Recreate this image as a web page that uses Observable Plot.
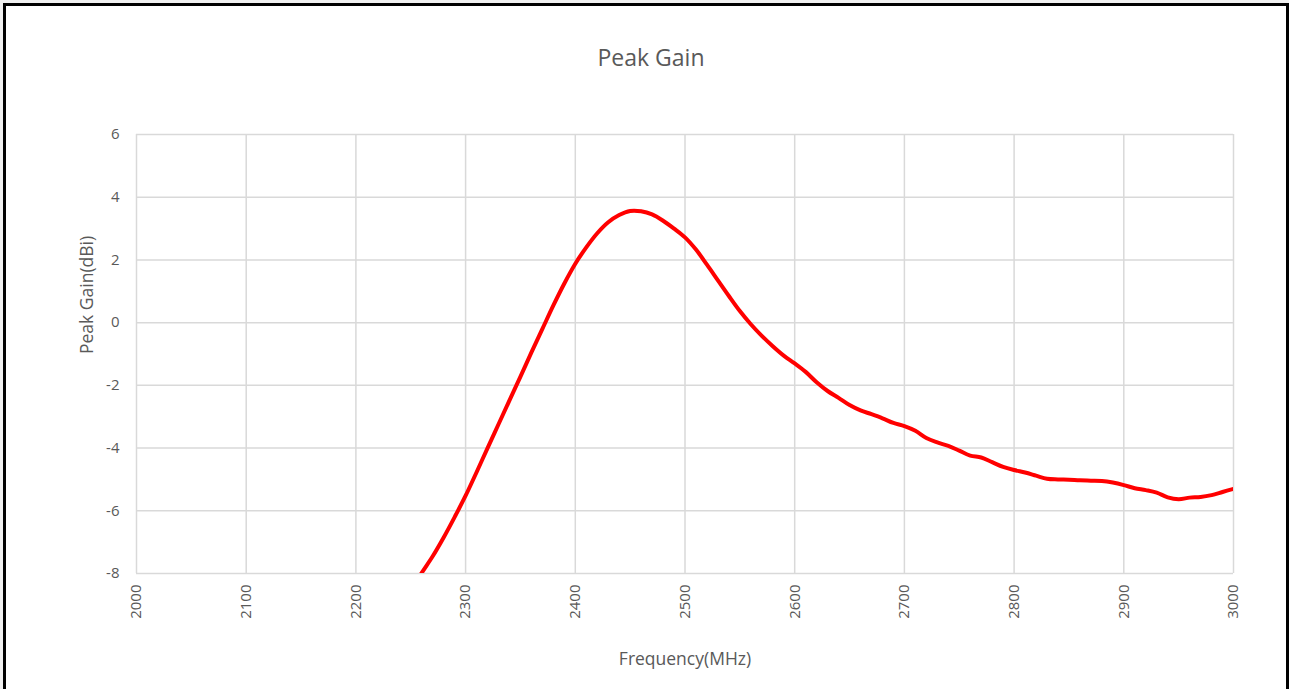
<!DOCTYPE html>
<html>
<head>
<meta charset="utf-8">
<script src="https://cdn.jsdelivr.net/npm/d3@7"></script>
<script src="https://cdn.jsdelivr.net/npm/@observablehq/plot@0.6"></script>
<style>
  html, body { margin: 0; padding: 0; background: #ffffff; }
  #wrap { position: relative; width: 1289px; height: 689px; overflow: hidden; background: #f0f0f0; }
  #frame { position: absolute; left: 3px; top: 3px; width: 1280px; height: 720px; background: #ffffff;
           border-left: 3px solid #000; border-top: 3px solid #000; border-right: 3px solid #000; }
  #title { position: absolute; left: 0; top: 42px; width: 1302px; text-align: center;
           font-family: "Open Sans", sans-serif; font-size: 23px; line-height: 30px; color: #595959; }
  #chart { position: absolute; left: 0; top: 0; }
</style>
</head>
<body>
<div id="wrap">
  <div id="frame"></div>
  <div id="title">Peak Gain</div>
  <div id="chart"></div>
</div>
<script>
// Frequency (MHz)
const freq = [2250,2260,2270,2280,2290,2300,2310,2320,2330,2340,2350,2360,2370,2380,2390,
  2400,2410,2420,2430,2440,2450,2460,2470,2480,2490,2500,2510,2520,2530,2540,2550,2560,2570,2580,2590,
  2600,2610,2620,2630,2640,2650,2660,2670,2680,2690,2700,2710,2720,2730,2740,2750,2760,2770,2780,2790,
  2800,2810,2820,2830,2840,2850,2860,2870,2880,2890,2900,2910,2920,2930,2940,2950,2960,2970,2980,2990,3000];
// Peak gain (dBi)
const gain = [-8.55,-7.98,-7.45,-6.85,-6.2,-5.52,-4.77,-4.0,-3.24,-2.48,-1.72,-0.95,-0.2,0.55,1.25,
  1.88,2.4,2.85,3.2,3.43,3.56,3.55,3.45,3.25,3.0,2.72,2.33,1.85,1.35,0.85,0.37,-0.05,-0.42,-0.75,-1.05,
  -1.3,-1.57,-1.9,-2.18,-2.4,-2.63,-2.8,-2.92,-3.05,-3.2,-3.3,-3.45,-3.68,-3.82,-3.93,-4.08,-4.24,-4.3,-4.45,-4.6,
  -4.7,-4.78,-4.88,-4.98,-5.0,-5.01,-5.03,-5.04,-5.05,-5.1,-5.18,-5.28,-5.34,-5.42,-5.57,-5.63,-5.58,-5.56,-5.5,-5.4,-5.3];
const xTicks = [2000,2100,2200,2300,2400,2500,2600,2700,2800,2900,3000];
const yTicks = [-8,-6,-4,-2,0,2,4,6];
const xLabel = "Frequency(MHz)";
const yLabel = "Peak Gain(dBi)";

const data = freq.map((f, i) => ({f, g: gain[i]}));

const chart = Plot.plot({
  width: 1289,
  height: 689,
  marginLeft: 136,
  marginRight: 56,
  marginTop: 134,
  marginBottom: 116,
  style: {fontFamily: "'Open Sans', sans-serif", fontSize: "15px", color: "#595959", background: "transparent"},
  x: {domain: [2000, 3000]},
  y: {domain: [-8, 6]},
  marks: [
    Plot.gridX(xTicks, {stroke: "#d9d9d9", strokeOpacity: 1, strokeWidth: 1.5}),
    Plot.gridY(yTicks, {stroke: "#d9d9d9", strokeOpacity: 1, strokeWidth: 1.5}),
    Plot.axisY(yTicks, {tickSize: 0, tickPadding: 17, fill: "#595959", fontSize: 15, tickFormat: d => String(d), label: null}),
    Plot.axisX(xTicks, {tickSize: 0, tickPadding: 11, tickRotate: -90, fill: "#595959", fontSize: 15, tickFormat: d => String(d), label: null}),
    Plot.text([xLabel], {text: d => d, frameAnchor: "bottom", dy: 91, fontSize: 17.5, fill: "#595959"}),
    Plot.text([yLabel], {text: d => d, frameAnchor: "left", dx: -49, rotate: -90, fontSize: 17.5, fill: "#595959"}),
    Plot.line(data, {x: "f", y: "g", stroke: "#ff0000", strokeWidth: 4, curve: "catmull-rom", clip: true})
  ]
});
document.getElementById("chart").appendChild(chart);
</script>
</body>
</html>
